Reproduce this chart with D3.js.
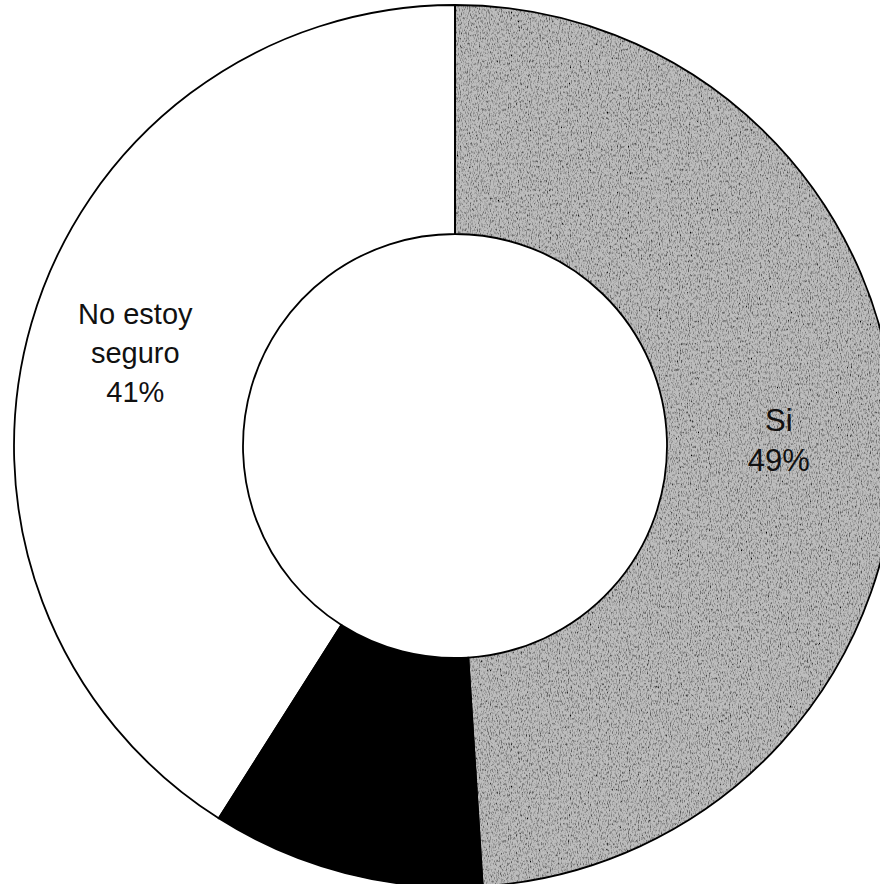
<!DOCTYPE html>
<html>
<head>
<meta charset="utf-8">
<script src="https://cdn.jsdelivr.net/npm/d3@7"></script>
<style>
  body { margin: 0; background: #fff; }
  svg { display: block; }
</style>
</head>
<body>
<div id="chart"></div>
<script>
const categories = ['Si', 'No', 'No estoy seguro'];
const values = [49, 10, 41];
const labelLines = [['Si', '49%'], ['No', '10%'], ['No estoy', 'seguro', '41%']];
const fills = ['#bdbdbd', '#000000', '#ffffff'];
const textColors = ['#111', '#000', '#111'];

document.addEventListener('DOMContentLoaded', () => {
  const width = 880;
  const height = 884;
  const cx = 455;
  const cy = 446;
  const outerR = 441;
  const innerR = 212;

  const svg = d3.select('#chart')
    .append('svg')
    .attr('width', width)
    .attr('height', height);

  // grainy texture for the grey slice
  const defs = svg.append('defs');
  const filter = defs.append('filter')
    .attr('id', 'grain')
    .attr('x', 0).attr('y', 0).attr('width', 1).attr('height', 1);
  filter.append('feTurbulence')
    .attr('type', 'fractalNoise')
    .attr('baseFrequency', '0.9 0.35')
    .attr('numOctaves', 2)
    .attr('seed', 3)
    .attr('result', 'noise');
  filter.append('feColorMatrix')
    .attr('in', 'noise')
    .attr('type', 'matrix')
    .attr('values', '0 0 0 0 0  0 0 0 0 0  0 0 0 0 0  0 0 0 -2.4 1.3')
    .attr('result', 'dots');
  filter.append('feComposite')
    .attr('in', 'dots')
    .attr('in2', 'SourceGraphic')
    .attr('operator', 'in')
    .attr('result', 'dotsIn');
  const merge = filter.append('feMerge');
  merge.append('feMergeNode').attr('in', 'SourceGraphic');
  merge.append('feMergeNode').attr('in', 'dotsIn');

  const data = categories.map((c, i) => ({ name: c, value: values[i], lines: labelLines[i], i }));

  const pie = d3.pie()
    .sort(null)
    .value(d => d.value);

  const arc = d3.arc()
    .innerRadius(innerR)
    .outerRadius(outerR);

  const g = svg.append('g')
    .attr('transform', `translate(${cx},${cy})`);

  const arcs = pie(data);

  g.selectAll('.slice')
    .data(arcs)
    .enter()
    .append('path')
    .attr('class', 'slice')
    .attr('d', arc)
    .attr('fill', d => fills[d.data.i])
    .attr('filter', d => (d.data.i === 0 ? 'url(#grain)' : null));

  // outlines on top so edges stay crisp
  g.selectAll('.edge')
    .data(arcs)
    .enter()
    .append('path')
    .attr('class', 'edge')
    .attr('d', arc)
    .attr('fill', 'none')
    .attr('stroke', '#000')
    .attr('stroke-width', 1.8);

  const labelPos = [
    { r: 328, dx: -4, dy: 5 },
    { r: 330, dx: 0, dy: 0 },
    { r: 335, dx: 2, dy: 0 }
  ];
  const fontSizes = [31, 27, 29];
  const lineH = [40, 38, 39];

  const labels = g.selectAll('.label')
    .data(arcs)
    .enter()
    .append('text')
    .attr('class', 'label')
    .attr('text-anchor', 'middle')
    .attr('font-family', 'Liberation Sans, Arial, sans-serif')
    .attr('font-size', d => fontSizes[d.data.i])
    .attr('fill', d => textColors[d.data.i])
    .attr('transform', d => {
      const p = labelPos[d.data.i];
      const a = (d.startAngle + d.endAngle) / 2;
      const x = Math.sin(a) * p.r + p.dx;
      const y = -Math.cos(a) * p.r + p.dy;
      const n = d.data.lines.length;
      return `translate(${x},${y - ((n - 1) * lineH[d.data.i]) / 2 + 10})`;
    });

  labels.selectAll('tspan')
    .data(d => d.data.lines.map(t => ({ t, i: d.data.i })))
    .enter()
    .append('tspan')
    .attr('x', 0)
    .attr('dy', (d, k) => (k === 0 ? 0 : lineH[d.i]))
    .text(d => d.t);
});
</script>
</body>
</html>
